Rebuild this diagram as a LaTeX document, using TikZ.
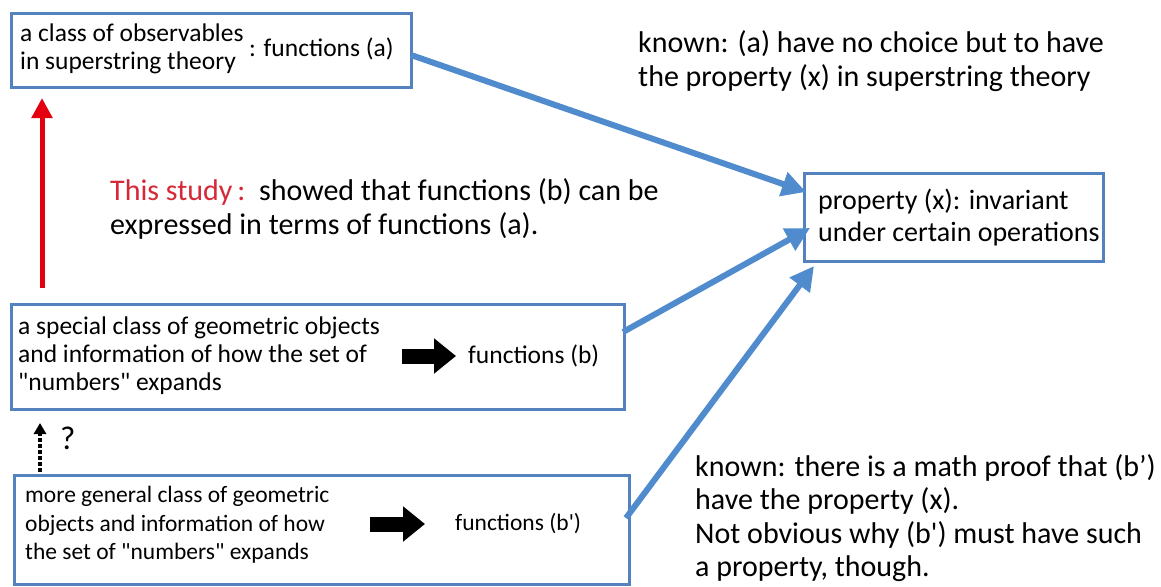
\documentclass[tikz,border=0pt]{standalone}
\usepackage{fontspec}
\newfontfamily\carl{Carlito}
\usetikzlibrary{arrows.meta}
\definecolor{boxblue}{RGB}{84,130,190}
\definecolor{arrblue}{RGB}{80,140,205}
\definecolor{myred}{RGB}{228,0,15}
\definecolor{txtred}{RGB}{215,40,55}
\begin{document}
\begin{tikzpicture}[x=1pt,y=-1pt,
  box/.style={draw=boxblue, line width=2.6pt, anchor=north west, inner sep=0pt},
  lbl/.style={anchor=west, inner sep=0pt, align=left, text=black},
  small/.style={font=\carl\fontsize{25.5}{28}\selectfont},
  smaller/.style={font=\carl\fontsize{23.5}{28.5}\selectfont},
  big/.style={font=\carl\fontsize{30}{33.5}\selectfont},
  mid/.style={font=\carl\fontsize{28}{32}\selectfont},
  bluearrow/.style={draw=arrblue, line width=6pt, -{Triangle[length=24pt,width=24pt]}},
  fatarrow/.style={draw=black, line width=15pt, -{Triangle[length=22pt,width=34pt]}},
]
\useasboundingbox[fill=white] (0,0) rectangle (1161,586);

% boxes
\node[box, minimum width=400pt, minimum height=74pt] (boxA) at (10,12) {};
\node[box, minimum width=613pt, minimum height=105pt] (boxB) at (10,303) {};
\node[box, minimum width=615pt, minimum height=109pt] (boxBp) at (13,474) {};
\node[box, minimum width=299pt, minimum height=88pt] (boxX) at (803,172) {};

% box texts
\node[lbl, small] (ta) at (20,49) {a class of observables\\in superstring theory};
\node[lbl, small] (fa) at (249,49) {: functions (a)};
\node[lbl, small] (tb) at (18,356) {a special class of geometric objects\\and information of how the set of\\"numbers" expands};
\node[lbl, small] (fb) at (468,356) {functions (b)};
\node[lbl, smaller] (tbp) at (25,525) {more general class of geometric\\objects and information of how\\the set of "numbers" expands};
\node[lbl, smaller] (fbp) at (455,524) {functions (b')};
\node[lbl, mid] (tx) at (818,218) {property (x): invariant\\under certain operations};

% free texts
\node[lbl, big] (known1) at (638,61) {known: (a) have no choice but to have\\the property (x) in superstring theory};
\node[lbl, big] (study) at (110,209) {\textcolor{txtred}{This study\,:}\ \ showed that functions (b) can be\\expressed in terms of functions (a).};
\node[lbl, big] (known2) at (695,518) {known: there is a math proof that (b’)\\have the property (x).\\Not obvious why (b') must have such\\a property, though.};
\node[lbl, font=\carl\fontsize{33}{36}\selectfont] (q) at (60,438) {?};

% coordinates
\coordinate (a1) at (411,55);
\coordinate (x1) at (806,192);
\coordinate (b1) at (623,332);
\coordinate (x2) at (810,228);
\coordinate (bp1) at (626,518);
\coordinate (x3) at (814,266);
\coordinate (r0) at (42,288);
\coordinate (r1) at (42,98);
\coordinate (d0) at (40,472);
\coordinate (d1) at (40,423);
\coordinate (fb0) at (402,356);
\coordinate (fb1) at (456,356);
\coordinate (fbp0) at (370,524);
\coordinate (fbp1) at (425,524);

% arrows
\draw[bluearrow] (a1) -- (x1);
\draw[bluearrow] (b1) -- (x2);
\draw[bluearrow] (bp1) -- (x3);
\draw[myred, line width=5pt, -{Triangle[length=20pt,width=20pt]}] (r0) -- (r1);
\draw[black, line width=4pt, dotted, -{Triangle[length=11pt,width=12pt]}] (d0) -- (d1);
\draw[fatarrow] (fb0) -- (fb1);
\draw[fatarrow] (fbp0) -- (fbp1);
\end{tikzpicture}
\end{document}
